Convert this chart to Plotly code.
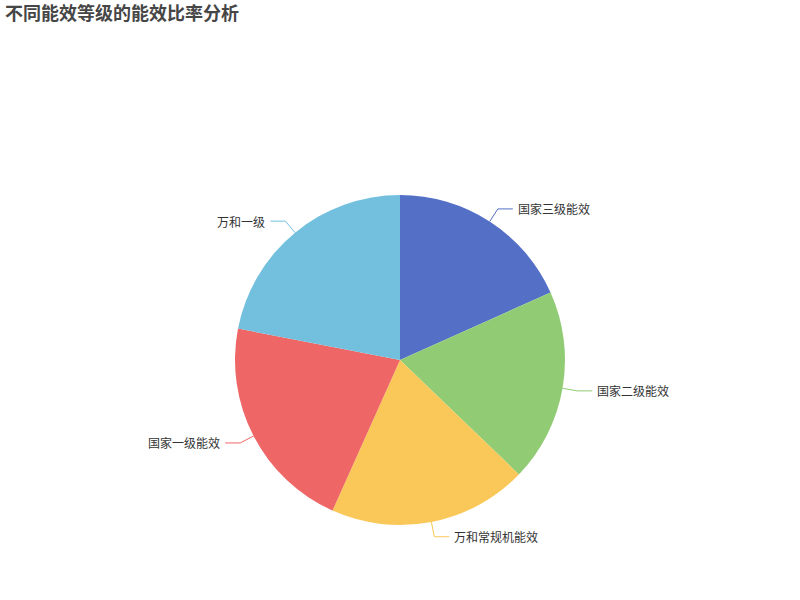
import numpy as np
import plotly.graph_objects as go

labels = ["国家三级能效", "国家二级能效", "万和常规机能效", "国家一级能效", "万和一级"]
values = [3.0, 3.1, 3.2, 3.5, 3.6]
colors = ["#5470c6", "#91cc75", "#fac858", "#ee6666", "#73c0de"]

W, H = 800, 600
cx, cy, r = 400, 360, 165
font = "Noto Sans CJK SC, Noto Sans, sans-serif"

fig = go.Figure()
fig.add_trace(go.Pie(
    labels=labels,
    values=values,
    sort=False,
    direction="clockwise",
    rotation=0,
    marker=dict(colors=colors, line=dict(width=0)),
    textinfo="none",
    showlegend=False,
    domain=dict(x=[0, 1], y=[(H - cy - r) / H, (H - cy + r) / H]),
))

# leader lines and outside labels, placed from the slice mid-angles
v = np.array(values)
ends = np.cumsum(v) / v.sum() * 360
mids = np.radians(ends - v / v.sum() * 180)
annotations = []
for name, col, a in zip(labels, colors, mids):
    s, c = np.sin(a), np.cos(a)
    x0, y0 = cx + r * s, cy - r * c
    x1, y1 = cx + (r + 15) * s, cy - (r + 15) * c
    side = 1 if s >= 0 else -1
    x2 = x1 + 15 * side
    fig.add_trace(go.Scatter(
        x=[x0, x1, x2], y=[y0, y1, y1], mode="lines",
        line=dict(color=col, width=1), hoverinfo="skip", showlegend=False,
    ))
    annotations.append(dict(
        x=x2 + 3 * side, y=y1, xref="x", yref="y", text=name,
        showarrow=False, xanchor="left" if side > 0 else "right", yanchor="middle",
        font=dict(size=12, color="#333333", family=font),
    ))

fig.update_layout(
    width=W, height=H,
    margin=dict(l=0, r=0, t=0, b=0),
    paper_bgcolor="white", plot_bgcolor="rgba(0,0,0,0)",
    xaxis=dict(range=[0, W], visible=False, fixedrange=True),
    yaxis=dict(range=[H, 0], visible=False, fixedrange=True),
    title=dict(
        text="<b>不同能效等级的能效比率分析</b>",
        x=5 / W, xanchor="left", xref="container",
        y=1 - 14 / H, yanchor="middle", yref="container",
        font=dict(size=18, color="#464646", family=font),
    ),
    annotations=annotations,
)

# drop the default page margin so the chart sits at the window corner
fig.write_html("out.html", config={"displayModeBar": False},
               post_script="document.body.style.margin='0';")
